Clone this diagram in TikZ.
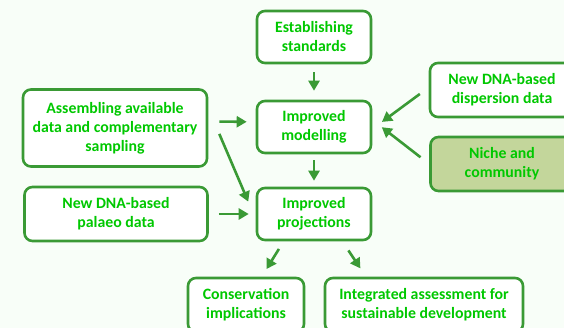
\documentclass[tikz,border=0pt]{standalone}
\usepackage{fontspec}
\setmainfont{Carlito}
\usetikzlibrary{positioning,arrows.meta}
\definecolor{edgegreen}{HTML}{3A9A35}
\definecolor{textgreen}{HTML}{00C800}
\definecolor{nichefill}{HTML}{C3D69B}
\definecolor{paper}{HTML}{F8FEF8}

\begin{document}
\begin{tikzpicture}[x=1pt,y=-1pt,
        box/.style = {
            draw=edgegreen,
            fill=white,
            line width=2.6pt,
            rounded corners=8pt,
            align=center,
            inner sep=0pt,
            minimum height=52pt,
            text=textgreen,
            font=\fontsize{15.8}{19}\selectfont\bfseries
        },
        flow/.style = {
            draw=edgegreen,
            line width=2.6pt,
            -{Triangle[width=11pt,length=10pt]}
        }]

        \fill[paper] (0,0) rectangle (564,328);
        \useasboundingbox (0,0) rectangle (564,328);
        \clip (0,0) rectangle (564,328);

        \node[box, minimum width=114pt] (standards) at (314,37) {Establishing\\standards};
        \node[box, minimum width=114pt] (modelling) at (314,127) {Improved\\modelling};
        \node[box, minimum width=114pt] (projections) at (314,214) {Improved\\projections};
        \node[box, minimum width=184pt, minimum height=77pt] (assembling) at (115,128) {Assembling available\\data and complementary\\sampling};
        \node[box, minimum width=183pt, minimum height=54pt] (palaeo) at (116,214) {New DNA-based\\palaeo data};
        \node[box, minimum width=144pt, minimum height=54pt] (dispersion) at (502,90) {New DNA-based\\dispersion data};
        \node[box, fill=nichefill, minimum width=143pt, minimum height=54pt] (niche) at (502,164) {Niche and\\community};
        \node[box, minimum width=116pt, minimum height=54pt] (conservation) at (246,305) {Conservation\\implications};
        \node[box, minimum width=198pt, minimum height=54pt] (integrated) at (424,305) {Integrated assessment for\\sustainable development};

        \draw[flow, shorten <=8pt, shorten >=9pt] (standards) -- (modelling);
        \draw[flow, shorten <=6pt, shorten >=6pt] (modelling) -- (projections);
        \draw[flow, shorten <=11pt, shorten >=9pt] (assembling.4) -- (modelling.175);
        \draw[flow, shorten <=28pt, shorten >=19pt] (assembling.12) -- (projections.185);
        \draw[flow, shorten <=10pt, shorten >=7pt] (palaeo) -- (projections);
        \draw[flow, shorten <=11pt, shorten >=12pt] (dispersion.178) -- (modelling.358);
        \draw[flow, shorten <=11pt, shorten >=12pt] (niche.west) -- (modelling.7);
        \draw[flow, shorten <=9pt, shorten >=9pt] (projections.222) -- (conservation.61);
        \draw[flow, shorten <=11pt, shorten >=10pt] (projections.316) -- (integrated.154);
    \end{tikzpicture}
\end{document}
